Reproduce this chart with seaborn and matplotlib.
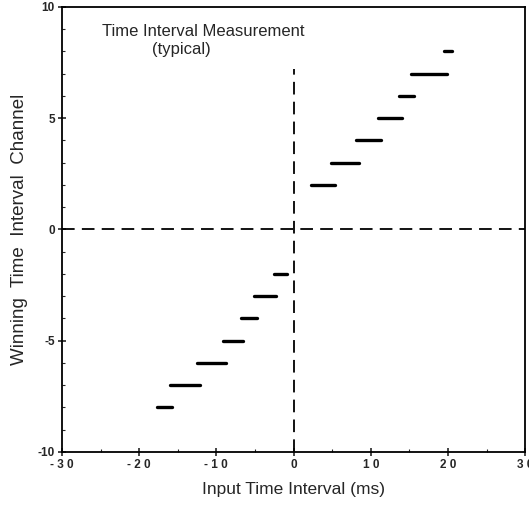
import matplotlib
matplotlib.use("Agg")
import matplotlib.pyplot as plt
from matplotlib.ticker import MultipleLocator
import seaborn as sns
import pandas as pd

channels = [-8, -7, -6, -5, -4, -3, -2, 2, 3, 4, 5, 6, 7, 8]
x_start = [-17.7, -16.0, -12.5, -9.1, -6.8, -5.1, -2.6, 2.3, 4.9, 8.1, 10.9, 13.7, 15.2, 19.5]
x_end = [-15.7, -12.1, -8.8, -6.5, -4.8, -2.3, -0.8, 5.3, 8.5, 11.3, 14.1, 15.6, 19.9, 20.5]
x_ticks = [-30, -20, -10, 0, 10, 20, 30]
y_ticks = [-10, -5, 0, 5, 10]
vline_top = 7.2

rows = []
for c, a, b in zip(channels, x_start, x_end):
    rows.append({"channel": c, "x": a, "y": c})
    rows.append({"channel": c, "x": b, "y": c})
df = pd.DataFrame(rows)

sns.set_style("ticks")
plt.rcParams['font.family'] = ['Liberation Sans', 'DejaVu Sans']

fig = plt.figure(figsize=(5.29, 5.07), dpi=100)
ax = fig.add_axes([0.117, 0.1085, 0.876, 0.878])

sns.lineplot(data=df, x="x", y="y", units="channel", estimator=None,
             color="black", linewidth=2.4, ax=ax, legend=False, sort=False)

ax.plot([-30, 30], [0, 0], color="black", linewidth=1.3, dashes=(7, 4))
ax.plot([0, 0], [-10, vline_top], color="black", linewidth=1.3, dashes=(7, 4))

ax.set_xlim(-30, 30)
ax.set_ylim(-10, 10)
ax.set_xticks(x_ticks)
ax.set_yticks(y_ticks)
ax.set_xticklabels([" ".join(str(t)) for t in x_ticks], fontsize=8.5, fontweight="bold")
ax.set_yticklabels([str(t) for t in y_ticks], fontsize=8.5, fontweight="bold")
ax.xaxis.set_minor_locator(MultipleLocator(5))
ax.yaxis.set_minor_locator(MultipleLocator(1))
ax.tick_params(which="major", direction="inout", length=6, width=1.2, pad=2)
ax.tick_params(which="minor", direction="in", length=2, width=0.8)
for s in ax.spines.values():
    s.set_linewidth(1.3)
    s.set_color("black")

ax.set_xlabel("Input Time Interval (ms)", fontsize=12.5, labelpad=8)
ax.set_ylabel("Winning  Time  Interval  Channel", fontsize=13.5, labelpad=7)

ax.text(-24.8, 8.9, "Time Interval Measurement", fontsize=12, ha="left", va="center")
ax.text(-18.3, 8.1, "(typical)", fontsize=12, ha="left", va="center")

fig.savefig("out.png", dpi=100)
